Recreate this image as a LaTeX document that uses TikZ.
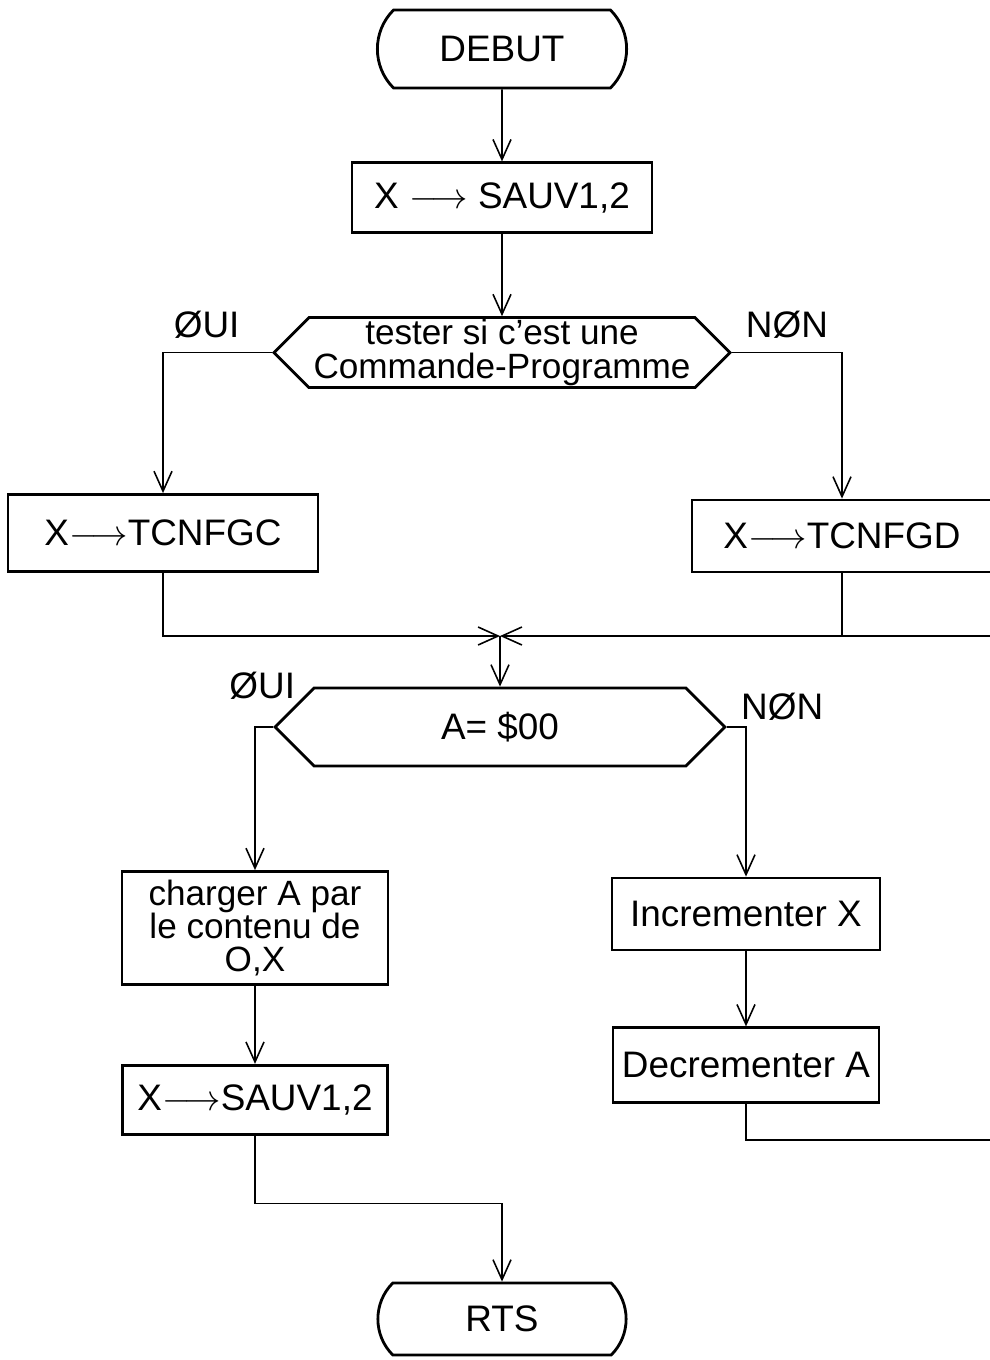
\documentclass[tikz,border=0pt]{standalone}
\usepackage{fontspec}
\setmainfont{Liberation Sans}
\usetikzlibrary{positioning,arrows.meta,shapes.misc,shapes.symbols}

\begin{document}
\begin{tikzpicture}[
    x=0.02cm, y=-0.02cm,
    >={Straight Barb[length=4mm,width=3.6mm]},
    every node/.style={font=\fontsize{21}{25}\selectfont},
    petit/.style={font=\fontsize{20}{19}\selectfont},
    bloc/.style={draw, line width=1.6pt, align=center, inner sep=2pt},
    borne/.style={draw, line width=1.6pt, rounded rectangle, rounded rectangle arc length=90},
    test/.style={draw, line width=1.6pt, signal, signal to=east and west, align=center, inner sep=1pt},
    lien/.style={line width=0.9pt}
]
\useasboundingbox (0,0) rectangle (990,1360);
\clip (0,0) rectangle (990,1360);

\node[borne, minimum width=5.22cm, minimum height=1.56cm] (debut) at (502,49) {DEBUT};
\node[bloc, minimum width=6cm, minimum height=1.4cm, below=1.44cm of debut] (sauv1) {X $\longrightarrow$ SAUV1,2};
\node[test, petit, minimum width=9.12cm, minimum height=1.4cm, below=1.64cm of sauv1] (test1) {tester si c'est une\\Commande-Programme};
\node[bloc, minimum width=6.2cm, minimum height=1.54cm] (gauche) at (163,533) {X$\longrightarrow$TCNFGC};
\node[bloc, minimum width=6cm, minimum height=1.44cm] (droite) at (842,536) {X$\longrightarrow$TCNFGD};
\coordinate (jonction) at (500,636);
\node[test, minimum width=9cm, minimum height=1.56cm] (test2) at (500,727) {A= \$00};
\node[bloc, petit, minimum width=5.32cm, minimum height=2.26cm] (charger) at (255,928) {charger A par\\le contenu de\\O,X};
\node[bloc, minimum width=5.3cm, minimum height=1.38cm, below=1.56cm of charger] (sauv2) {X$\longrightarrow$SAUV1,2};
\node[bloc, minimum width=5.36cm, minimum height=1.44cm] (incr) at (746,914) {Incrementer X};
\node[bloc, minimum width=5.32cm, minimum height=1.5cm, below=1.5cm of incr] (decr) {Decrementer A};
\node[borne, minimum width=5.2cm, minimum height=1.44cm] (rts) at (502,1319) {RTS};
\coordinate (retour) at (1000,1140);

\draw[lien,->] (debut) -- (sauv1);
\draw[lien,->] (sauv1) -- (test1);
\draw[lien,->] (test1.west) -| node[pos=0.3, above=4pt]{ØUI} (gauche.north);
\draw[lien,->] (test1.east) -| node[pos=0.25, above=4pt]{NØN} (droite.north);
\draw[lien,->] (gauche.south) |- (jonction);
\draw[lien] (droite.south) -- (droite.south |- jonction);
\draw[lien,->] (decr.south) |- (retour) -- (retour |- jonction) -- (jonction);
\draw[lien,->] (jonction) -- (test2);
\draw[lien,->] (test2.west) -| node[pos=0.3, above=12pt]{ØUI} (charger.north);
\draw[lien,->] (test2.east) -| node[pos=0.2, above right=0pt]{NØN} (incr.north);
\draw[lien,->] (charger) -- (sauv2);
\draw[lien,->] (incr) -- (decr);
\draw[lien,->] (sauv2.south) -- ++(0,68) -| (rts.north);
\end{tikzpicture}
\end{document}
